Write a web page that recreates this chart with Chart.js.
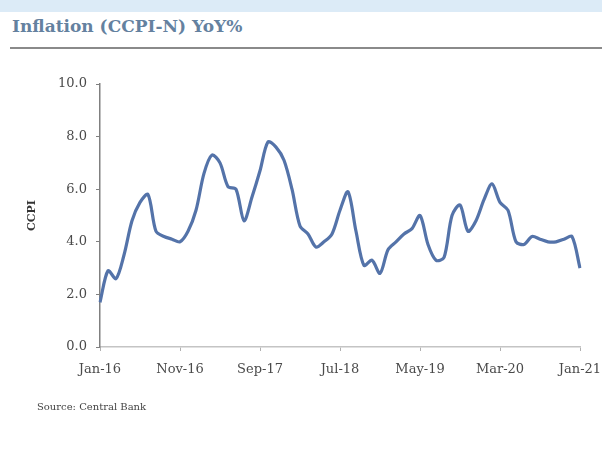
<!DOCTYPE html>
<html>
<head>
<meta charset="utf-8">
<script src="https://cdn.jsdelivr.net/npm/chart.js@4.4.1/dist/chart.umd.min.js"></script>
<style>
    html, body {
        margin: 0;
        padding: 0;
        background: #ffffff;
    }
    #wrap {
        position: relative;
        width: 602px;
        height: 449px;
        overflow: hidden;
    }
    #band {
        position: absolute;
        left: 0;
        top: 0;
        width: 602px;
        height: 12px;
        background: #dcebf7;
    }
    #title {
        position: absolute;
        left: 12px;
        top: 16px;
        font-family: "DejaVu Serif", serif;
        font-weight: bold;
        font-size: 17px;
        color: #64819f;
        white-space: nowrap;
    }
    #rule {
        position: absolute;
        left: 10px;
        top: 47px;
        width: 592px;
        height: 2px;
        background: #8a8a8a;
    }
    #source {
        position: absolute;
        left: 37px;
        top: 401px;
        font-family: "DejaVu Serif", serif;
        font-size: 10px;
        color: #444444;
        white-space: nowrap;
    }
    #chartBox {
        position: absolute;
        left: 0;
        top: 0;
        width: 602px;
        height: 449px;
    }
</style>
</head>
<body>
<div id="wrap">
    <div id="band"></div>
    <div id="title">Inflation (CCPI-N) YoY%</div>
    <div id="rule"></div>
    <div id="chartBox"><canvas id="ccpiChart"></canvas></div>
    <div id="source">Source: Central Bank</div>
</div>

<script>

// months Jan-16 .. Jan-21
const months = [
    "Jan-16", "Feb-16", "Mar-16", "Apr-16", "May-16", "Jun-16",
    "Jul-16", "Aug-16", "Sep-16", "Oct-16", "Nov-16", "Dec-16",
    "Jan-17", "Feb-17", "Mar-17", "Apr-17", "May-17", "Jun-17",
    "Jul-17", "Aug-17", "Sep-17", "Oct-17", "Nov-17", "Dec-17",
    "Jan-18", "Feb-18", "Mar-18", "Apr-18", "May-18", "Jun-18",
    "Jul-18", "Aug-18", "Sep-18", "Oct-18", "Nov-18", "Dec-18",
    "Jan-19", "Feb-19", "Mar-19", "Apr-19", "May-19", "Jun-19",
    "Jul-19", "Aug-19", "Sep-19", "Oct-19", "Nov-19", "Dec-19",
    "Jan-20", "Feb-20", "Mar-20", "Apr-20", "May-20", "Jun-20",
    "Jul-20", "Aug-20", "Sep-20", "Oct-20", "Nov-20", "Dec-20",
    "Jan-21"
];

// CCPI-N YoY %
const ccpiYoY = [
    1.7, 2.9, 2.6, 3.5, 4.8, 5.5, 5.8, 4.4, 4.2, 4.1,
    4.0, 4.4, 5.2, 6.6, 7.3, 7.0, 6.1, 6.0, 4.8, 5.7,
    6.7, 7.8, 7.6, 7.1, 6.0, 4.6, 4.3, 3.8, 4.0, 4.3,
    5.2, 5.9, 4.4, 3.1, 3.3, 2.8, 3.7, 4.0, 4.3, 4.5,
    5.0, 3.9, 3.3, 3.4, 5.0, 5.4, 4.4, 4.8, 5.6, 6.2,
    5.5, 5.2, 4.0, 3.9, 4.2, 4.1, 4.0, 4.0, 4.1, 4.2,
    3.0
];

// labels shown on the x axis
const xTickLabels = ["Jan-16", "Nov-16", "Sep-17", "Jul-18", "May-19", "Mar-20", "Jan-21"];

const yTicks = [0, 2, 4, 6, 8, 10];

const tickFont = {
    family: "DejaVu Serif",
    size: 13,
};

const canvas = document.getElementById("ccpiChart");

new Chart(canvas, {

    type: "line",

    data: {
        labels: months,
        datasets: [
            {
                label: "CCPI",
                data: ccpiYoY,
                borderColor: "#5473a9",
                borderWidth: 3.2,
                pointRadius: 0,
                fill: false,
                tension: 0.3,
            },
        ],
    },

    options: {
        responsive: true,
        maintainAspectRatio: false,
        animation: false,
        layout: {
            padding: {
                left: 26,
                right: 22,
                top: 84,
                bottom: 0,
            },
        },
        plugins: {
            legend: { display: false },
            tooltip: { enabled: false },
        },
        scales: {
            x: {
                offset: false,
                grid: {
                    drawOnChartArea: false,
                    tickLength: 4,
                    color: "#b0b0b0",
                },
                border: {
                    color: "#c4c4c4",
                    width: 1.5,
                },
                ticks: {
                    autoSkip: false,
                    maxRotation: 0,
                    padding: 11,
                    color: "#4a4a4a",
                    font: tickFont,
                    callback: function(value, index) {
                        const name = months[index];
                        return xTickLabels.includes(name) ? name : null;
                    },
                },
                afterFit: function(scale) {
                    scale.height = 102;
                    // let the last label run off the edge like the original
                    scale.paddingRight = 0;
                    scale.paddingLeft = 0;
                },
            },
            y: {
                min: 0,
                max: 10,
                afterBuildTicks: function(scale) {
                    scale.ticks = yTicks.map(v => ({ value: v }));
                },
                grid: {
                    drawOnChartArea: false,
                    tickLength: 4,
                    color: "#808080",
                },
                border: {
                    color: "#808080",
                    width: 1.5,
                },
                ticks: {
                    padding: 9,
                    color: "#4a4a4a",
                    font: tickFont,
                    callback: function(value) {
                        return value.toFixed(1);
                    },
                },
                title: {
                    display: true,
                    text: "CCPI",
                    color: "#333333",
                    font: {
                        family: "DejaVu Serif",
                        size: 11,
                        weight: "bold",
                    },
                    padding: { top: 0, bottom: 0 },
                },
                afterFit: function(scale) {
                    scale.width = 74;
                },
            },
        },
    },

});

</script>
</body>
</html>
